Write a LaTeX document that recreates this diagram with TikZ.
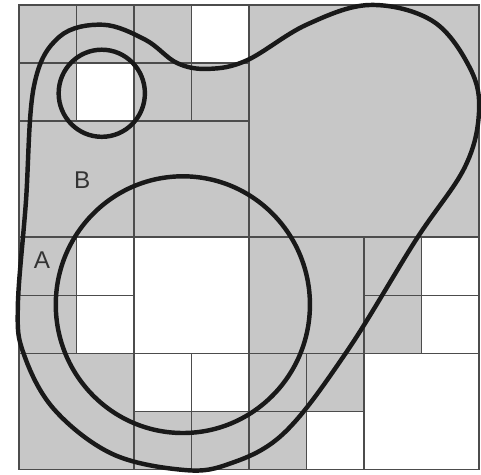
\documentclass[tikz,border=0pt]{standalone}
\usepackage{fontspec}
\setsansfont{Liberation Sans}
\usepackage{tikz}
\colorlet{g}{black!22}
\colorlet{w}{white}

\begin{document}
\begin{tikzpicture}[x=1cm, y=1.01cm,
  cell/.style={draw=black!70, line width=0.8pt},
  curve/.style={draw=black!90, line width=2.2pt},
  tag/.style={font=\sffamily\fontsize{12}{14}\selectfont, text=black!80, inner sep=0pt}]
  \useasboundingbox (-0.33,-0.086) rectangle (8.035,8.086);
  % quadtree leaves: x/y/size/fill
  \foreach \x/\y/\s/\c in {0/7/1/g,1/7/1/g,2/7/1/g,3/7/1/w,
                           0/6/1/g,1/6/1/w,2/6/1/g,3/6/1/g,
                           0/4/2/g,2/4/2/g,4/4/4/g,
                           0/3/1/g,1/3/1/w,0/2/1/g,1/2/1/w,2/2/2/w,
                           4/2/2/g,6/3/1/g,7/3/1/w,6/2/1/g,7/2/1/w,
                           0/0/2/g,2/1/1/w,3/1/1/w,2/0/1/g,3/0/1/g,
                           4/1/1/g,5/1/1/g,4/0/1/g,5/0/1/w,6/0/2/w}
    \filldraw[cell, fill=\c] (\x,\y) rectangle ++(\s,\s);
  \draw[cell] (0,0) rectangle (8,8);
  % regions
  \draw[curve] plot[smooth cycle, tension=0.6] coordinates {
    (-0.02,2.8) (0.12,4.6) (0.26,6.6) (0.7,7.45) (1.46,7.66) (2.2,7.4)
    (2.75,7.0) (3.3,6.9) (3.97,7.05) (5.0,7.66) (6.1,8.0) (7.2,7.72)
    (7.85,6.9) (8.0,6.15) (7.75,5.2) (6.9,3.95) (5.7,2.03) (4.6,0.62)
    (3.6,0.08) (2.8,0.0) (1.6,0.28) (0.6,1.05) (0.08,2.0)};
  \draw[curve] (1.44,6.48) circle[radius=0.75];
  \draw[curve] (2.85,2.84) circle[radius=2.21];
  \node[tag] (labA) at (0.40,3.60) {A};
  \node[tag] (labB) at (1.10,4.98) {B};
\end{tikzpicture}
\end{document}
